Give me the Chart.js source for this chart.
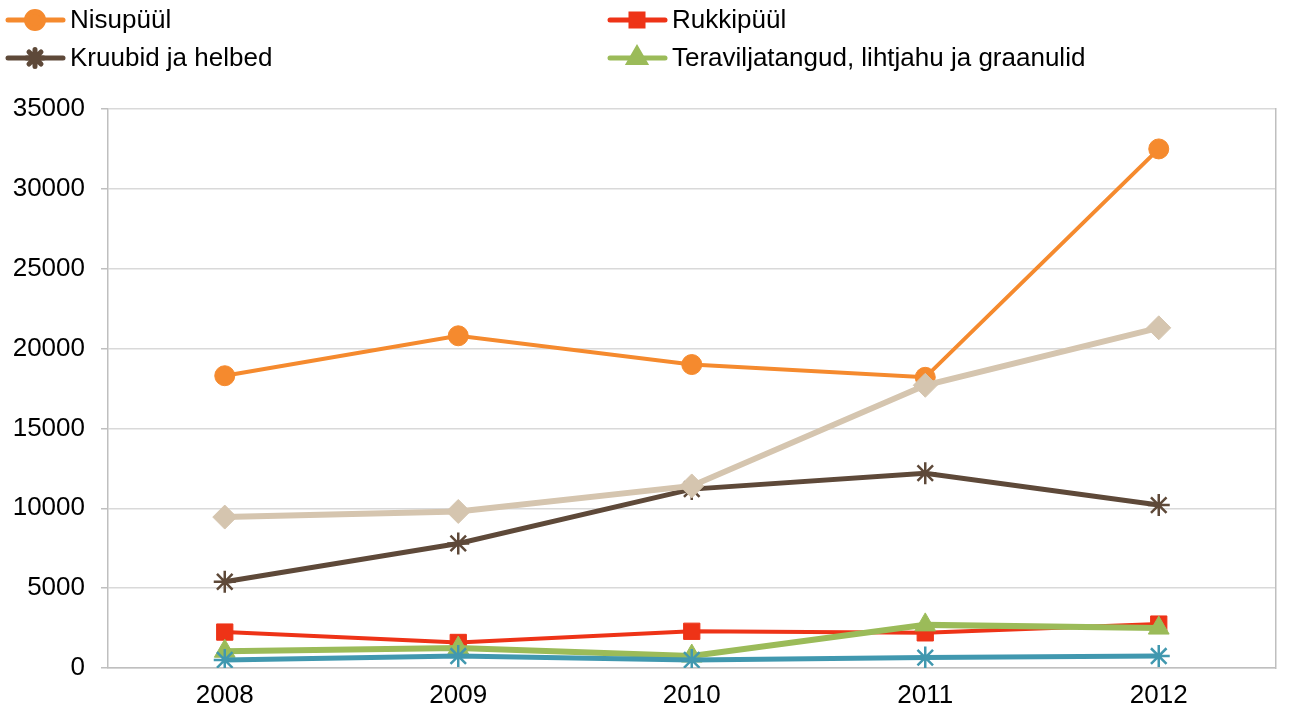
<!DOCTYPE html>
<html>
<head>
<meta charset="utf-8">
<script src="https://cdn.jsdelivr.net/npm/chart.js@4.4.1/dist/chart.umd.min.js"></script>
<style>
  html, body { margin: 0; padding: 0; background: #fff; }
  #wrap { width: 1289px; height: 715px; position: relative; }
</style>
</head>
<body>
<div id="wrap"><canvas id="lineChart"></canvas></div>
<script>
const years = ['2008', '2009', '2010', '2011', '2012'];
const yTicks = [0, 5000, 10000, 15000, 20000, 25000, 30000, 35000];

const nisupyyl = [18300, 20800, 19000, 18200, 32500];
const rukkipyyl = [2250, 1600, 2300, 2200, 2750];
const kruubid = [5400, 7800, 11200, 12200, 10200];
const teravili = [1050, 1250, 750, 2700, 2500];
const seeria5 = [9450, 9800, 11400, 17700, 21300];
const seeria6 = [500, 750, 500, 650, 750];

const seriesNames = ['Nisupüül', 'Rukkipüül', 'Kruubid ja helbed', 'Teraviljatangud, lihtjahu ja graanulid', 'Seeria 5', 'Seeria 6'];

const FONT = '"Liberation Sans", Arial, sans-serif';

function makeSet(label, data, color, width, style, radius, order) {
  return {
    label: label,
    data: data,
    borderColor: color,
    backgroundColor: color,
    borderWidth: width,
    pointStyle: style,
    pointRadius: radius,
    pointHoverRadius: radius,
    pointBorderWidth: style === 'star' ? 2.5 : 1,
    pointBorderColor: color,
    pointBackgroundColor: color,
    tension: 0,
    order: order
  };
}

// legend in two columns, drawn on the canvas
const legendPlugin = {
  id: 'twoColLegend',
  afterDraw(chart) {
    const ctx = chart.ctx;
    const spots = [[8, 20], [610, 20], [8, 58], [610, 58]];
    ctx.save();
    ctx.font = '26px ' + FONT;
    ctx.textBaseline = 'middle';
    for (let i = 0; i < 4; i++) {
      const ds = chart.data.datasets[i];
      const [x, y] = spots[i];
      ctx.strokeStyle = ds.borderColor;
      ctx.lineWidth = 5;
      ctx.lineCap = 'round';
      ctx.beginPath();
      ctx.moveTo(x, y);
      ctx.lineTo(x + 55, y);
      ctx.stroke();
      ctx.fillStyle = ds.backgroundColor;
      Chart.helpers.drawPoint(ctx, {
        pointStyle: ds.pointStyle,
        radius: ds.pointStyle === 'triangle' ? 9 : 8.5,
        rotation: 0,
        borderWidth: ds.pointBorderWidth
      }, x + 27, y);
      ctx.fillStyle = '#000';
      ctx.fillText(ds.label, x + 62, y + 1);
    }
    ctx.restore();
  }
};

const chartData = {
  labels: years,
  datasets: [
    makeSet(seriesNames[0], nisupyyl, '#F58A2E', 4, 'circle', 10, 6),
    makeSet(seriesNames[1], rukkipyyl, '#EE3317', 4, 'rect', 11.5, 5),
    makeSet(seriesNames[2], kruubid, '#5E4939', 5, 'star', 11, 4),
    makeSet(seriesNames[3], teravili, '#9BBB59', 6, 'triangle', 12, 3),
    makeSet(seriesNames[4], seeria5, '#D5C5AF', 6, 'rectRot', 12, 2),
    makeSet(seriesNames[5], seeria6, '#4198AF', 5, 'star', 11, 1)
  ]
};

const config = {
  type: 'line',
  data: chartData,
  plugins: [legendPlugin],
  options: {
    responsive: true,
    maintainAspectRatio: false,
    animation: false,
    layout: { padding: { top: 109, right: 8, left: 0, bottom: 0 } },
    plugins: {
      legend: { display: false },
      tooltip: { enabled: false }
    },
    scales: {
      x: {
        offset: true,
        grid: { display: false, drawTicks: false },
        border: { display: true, color: '#BFBFBF', width: 1.5 },
        ticks: {
          color: '#000',
          padding: 12,
          font: { family: FONT, size: 26 }
        },
        afterFit: function(scale) { scale.height = 47; }
      },
      y: {
        min: 0,
        max: 35000,
        afterBuildTicks: function(scale) {
          scale.ticks = yTicks.map(v => ({ value: v }));
        },
        grid: { color: '#D9D9D9', lineWidth: 1.5, drawTicks: true, tickLength: 7, tickColor: '#BFBFBF' },
        border: { display: true, color: '#BFBFBF', width: 1.5 },
        ticks: {
          color: '#000',
          padding: 16,
          font: { family: FONT, size: 26 },
          callback: function(value) { return String(value); }
        },
        afterFit: function(scale) { scale.width = 108; }
      },
      y2: {
        position: 'right',
        min: 0,
        max: 35000,
        grid: { display: false, drawTicks: false },
        border: { display: true, color: '#BFBFBF', width: 1.5 },
        ticks: { display: false },
        afterFit: function(scale) { scale.width = 0; }
      }
    }
  }
};

window.lineChart = new Chart(document.getElementById('lineChart').getContext('2d'), config);
</script>
</body>
</html>
